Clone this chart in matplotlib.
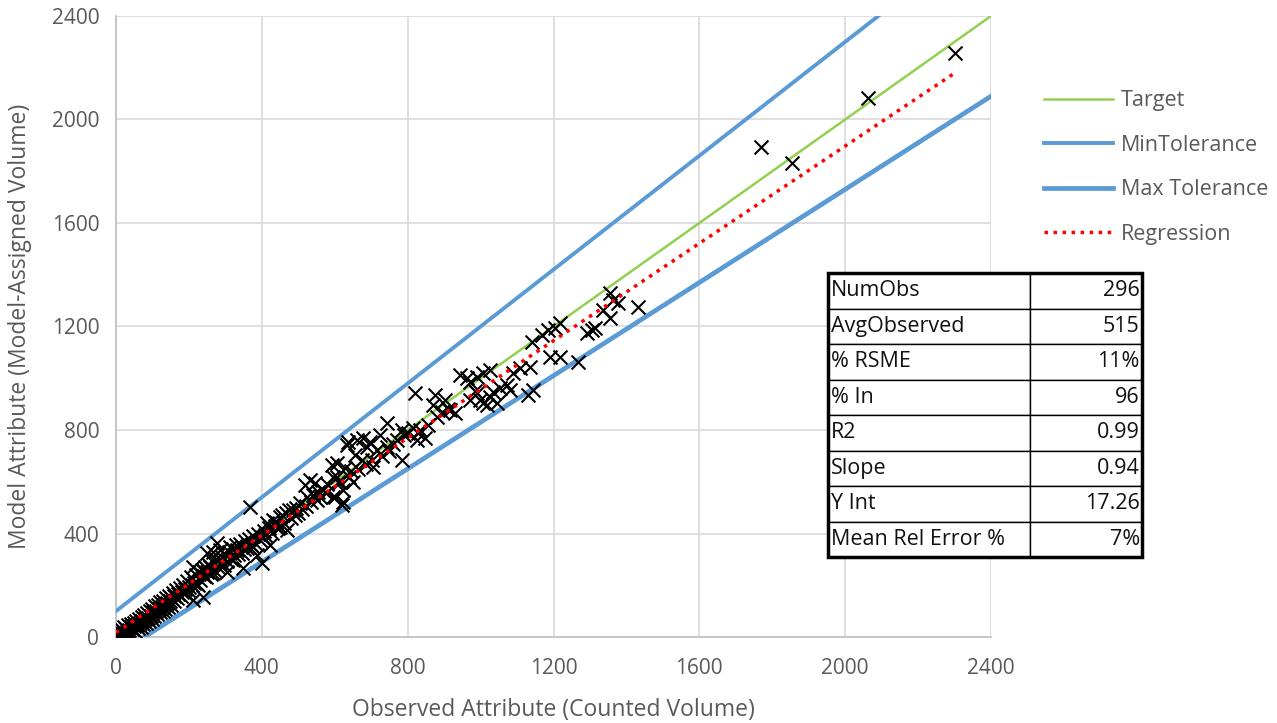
import numpy as np
import matplotlib
matplotlib.use("Agg")
import matplotlib.pyplot as plt
from matplotlib.patches import Rectangle

plt.rcParams['font.family'] = ['Open Sans', 'DejaVu Sans']

# observed vs model-assigned volumes
observed = [5, 8, 10, 12, 15, 18, 20, 22, 25, 28, 30, 32, 35, 38, 40, 42, 45, 48, 50, 52,
            55, 58, 60, 62, 65, 68, 70, 72, 75, 78, 80, 82, 85, 88, 90, 92, 95, 98, 100, 102,
            105, 108, 110, 112, 115, 118, 120, 122, 125, 128, 130, 132, 135, 138, 140, 142, 145, 148, 150,
            152, 155, 158, 160, 165, 168, 170, 175, 178, 180, 185, 188, 190, 195, 198, 200, 205, 208,
            211, 211, 215, 220, 222, 225, 228, 230, 235, 239, 239, 240, 245, 248, 250, 250, 255, 258,
            260, 265, 266, 266, 270, 275, 277, 280, 285, 285, 290, 295, 300, 304, 305, 310, 313, 315,
            320, 321, 325, 330, 332, 335, 340, 345, 348, 350, 355, 360, 365, 367, 370, 375, 376, 380,
            387, 390, 395, 400, 403, 405, 410, 414, 420, 422, 428, 431, 435, 440, 445, 450, 450, 455,
            460, 465, 469, 475, 480, 486, 490, 495, 500, 505, 510, 518, 520, 525, 532, 535, 540, 546,
            550, 555, 560, 568, 575, 580, 592, 595, 595, 601, 606, 606, 610, 614, 620, 623, 623, 628,
            634, 636, 640, 645, 650, 656, 661, 665, 675, 678, 685, 688, 697, 702, 705, 716, 724, 730,
            743, 743, 750, 760, 770, 784, 784, 790, 801, 815, 820, 826, 828, 835, 848, 855, 869, 875,
            880, 895, 902, 910, 916, 930, 944, 963, 971, 971, 985, 990, 990, 998, 1006, 1006, 1017,
            1026, 1026, 1034, 1045, 1053, 1072, 1081, 1089, 1108, 1130, 1136, 1141, 1144, 1169, 1185,
            1190, 1204, 1218, 1218, 1267, 1292, 1306, 1314, 1336, 1355, 1355, 1363, 1377, 1432, 1769,
            1854, 2063, 2301]
modeled = [10, 25, 5, 18, 30, 12, 22, 40, 15, 32, 20, 45, 28, 10, 38, 50, 30, 55, 42, 25,
           60, 48, 35, 70, 55, 40, 78, 62, 50, 85, 68, 55, 92, 75, 60, 100, 82, 70, 110, 95,
           80, 118, 100, 88, 125, 108, 95, 135, 115, 100, 140, 122, 108, 150, 130, 115, 160, 138, 125,
           150, 170, 140, 158, 180, 150, 165, 190, 160, 175, 200, 170, 185, 215, 180, 195, 230, 200,
           143, 271, 210, 240, 205, 201, 250, 220, 260, 155, 259, 235, 270, 230, 325, 250, 280, 271,
           245, 290, 247, 329, 260, 300, 363, 270, 286, 336, 310, 280, 320, 251, 295, 330, 348, 300,
           340, 298, 315, 355, 336, 320, 360, 325, 267, 340, 370, 345, 380, 502, 355, 390, 348, 365,
           317, 400, 375, 286, 386, 410, 395, 441, 420, 356, 402, 452, 430, 445, 420, 464, 425, 470,
           440, 480, 414, 490, 460, 491, 470, 500, 480, 518, 495, 587, 505, 540, 607, 520, 550, 595,
           530, 560, 540, 568, 555, 590, 665, 541, 618, 541, 618, 672, 600, 599, 510, 568, 522, 653,
           742, 754, 620, 640, 600, 703, 761, 650, 684, 769, 670, 734, 754, 684, 657, 723, 781, 700,
           827, 734, 720, 745, 760, 800, 684, 780, 788, 808, 943, 761, 788, 800, 769, 820, 897, 935,
           850, 870, 916, 880, 877, 866, 1013, 1001, 985, 916, 950, 1005, 943, 916, 1020, 904, 897,
           1032, 928, 947, 904, 962, 974, 955, 1020, 1040, 935, 1043, 1140, 955, 1167, 1186,
           1082, 1194, 1213, 1082, 1063, 1175, 1186, 1194, 1264, 1233, 1329, 1302, 1291, 1275, 1894,
           1832, 2083, 2257]

line_x = [0, 2400]
target_y = [0, 2400]
min_tol_y = [100, 2740]
max_tol_y = [-70, 2090]
reg_x = [0, 2301]
reg_y = [17.26, 0.94 * 2301 + 17.26]

stat_names = ["NumObs", "AvgObserved", "% RSME", "% In", "R2", "Slope", "Y Int", "Mean Rel Error %"]
stat_values = ["296", "515", "11%", "96", "0.99", "0.94", "17.26", "7%"]

fig = plt.figure(figsize=(12.77, 7.23), dpi=100)
ax = fig.add_axes([116 / 1277, 1 - 637 / 723, 875 / 1277, 621 / 723])

ax.plot(line_x, target_y, color='#92D050', lw=1.8, label='Target', zorder=3)
ax.plot(line_x, min_tol_y, color='#5B9BD5', lw=2.8, label='MinTolerance', zorder=3)
ax.plot(line_x, max_tol_y, color='#5B9BD5', lw=3.4, label='Max Tolerance', zorder=3)
ax.plot(reg_x, reg_y, color='#FF0000', lw=2.5, ls=(0, (1, 1.6)), label='Regression', zorder=5)
ax.scatter(observed, modeled, marker='x', color='black', s=100, linewidths=1.5, zorder=4)

ax.set_xlim(0, 2400)
ax.set_ylim(0, 2400)
ticks = np.arange(0, 2401, 400)
ax.set_xticks(ticks)
ax.set_yticks(ticks)
ax.grid(True, color='#D9D9D9', lw=1.2, zorder=0)
ax.set_axisbelow(True)
for s in ['top', 'right']:
    ax.spines[s].set_visible(False)
for s in ['left', 'bottom']:
    ax.spines[s].set_color('#BFBFBF')
    ax.spines[s].set_linewidth(1.2)
ax.tick_params(axis='x', length=0, labelsize=15, labelcolor='#595959', pad=15)
ax.tick_params(axis='y', length=0, labelsize=15, labelcolor='#595959', pad=12)
ax.set_xlabel("Observed Attribute (Counted Volume)", fontsize=16.5, color='#595959', labelpad=14)
ax.set_ylabel("Model Attribute (Model-Assigned Volume)", fontsize=16.5, color='#595959', labelpad=14)

leg = fig.legend(loc='upper left', bbox_to_anchor=(1025 / 1277, 1 - 71 / 723), frameon=False,
                 fontsize=15.5, handlelength=3.2, labelspacing=1.09, handletextpad=0.35)
for t in leg.get_texts():
    t.set_color('#595959')

# stats table
tb = ax.table(cellText=[[n, v] for n, v in zip(stat_names, stat_values)],
              bbox=[0.8137, 0.1288, 0.3589, 0.4573], colWidths=[202 / 314, 112 / 314],
              cellLoc='left', zorder=10)
tb.auto_set_font_size(False)
for (r, c), cell in tb.get_celld().items():
    cell.set_facecolor('white')
    cell.set_edgecolor('black')
    cell.set_linewidth(1.0)
    cell.get_text().set_fontsize(15.5)
    cell.get_text().set_color('#111111')
    if c == 1:
        cell.get_text().set_horizontalalignment('right')
        cell.PAD = 0.02
    else:
        cell.PAD = 0.015
ax.add_patch(Rectangle((0.8137, 0.1288), 0.3589, 0.4573, transform=ax.transAxes,
                       fill=False, ec='black', lw=2.5, zorder=11, clip_on=False))

fig.savefig("out.png", dpi=100)
